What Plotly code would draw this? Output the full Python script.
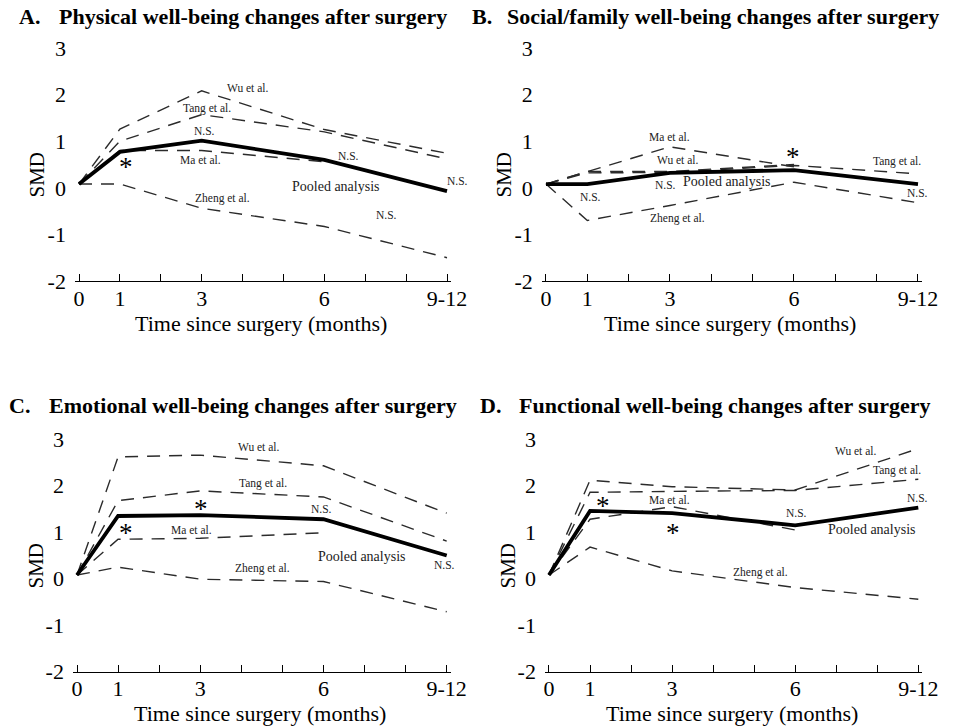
import plotly.graph_objects as go

# Time points (axis positions) and their tick labels
tick_positions = [0, 1, 2, 3, 4, 5, 6, 7, 8, 9]
tick_labels = ["0", "1", "", "3", "", "", "6", "", "", "9-12"]
months = [0, 1, 3, 6, 9]
y_ticks = [-2, -1, 0, 1, 2, 3]
y_tick_labels = ["-2", "-1", "0", "1", "2", "3"]

# A. Physical well-being (SMD)
phys_pooled = [0.08, 0.77, 1.01, 0.60, -0.07]
phys_wu = [0.08, 1.26, 2.08, 1.25, 0.74]
phys_tang = [0.08, 1.00, 1.57, 1.20, 0.62]
phys_ma = [0.08, 0.80, 0.80, 0.56, None]
phys_zheng = [0.08, 0.08, -0.44, -0.83, -1.50]

# B. Social/family well-being (SMD)
soc_pooled = [0.08, 0.08, 0.32, 0.38, 0.08]
soc_wu = [0.08, 0.35, 0.35, 0.50, None]
soc_tang = [0.08, 0.32, 0.33, 0.48, 0.30]
soc_ma = [0.08, None, 0.88, 0.45, None]
soc_zheng = [0.08, -0.70, -0.38, 0.12, -0.32]

# C. Emotional well-being (SMD)
emo_pooled = [0.08, 1.35, 1.37, 1.28, 0.50]
emo_wu = [0.08, 2.62, 2.66, 2.43, 1.41]
emo_tang = [0.08, 1.68, 1.89, 1.76, 0.81]
emo_ma = [0.08, 0.85, 0.87, 0.99, None]
emo_zheng = [0.08, 0.25, -0.01, -0.06, -0.71]

# D. Functional well-being (SMD)
func_pooled = [0.08, 1.46, 1.41, 1.15, 1.53]
func_wu = [0.08, 2.12, 1.98, 1.91, 2.80]
func_tang = [0.08, 1.86, 1.88, 1.90, 2.14]
func_ma = [0.08, 1.28, 1.55, 1.05, None]
func_zheng = [0.08, 0.68, 0.17, -0.19, -0.44]

# In-plot labels: (text, x, y)
notes_phys = [("Wu et al.", 4.13, 2.14), ("Tang et al.", 3.13, 1.71), ("N.S.", 3.06, 1.22),
              ("Ma et al.", 2.96, 0.60), ("Zheng et al.", 3.50, -0.24), ("N.S.", 6.60, 0.68),
              ("N.S.", 7.53, -0.58)]
stars_phys = [(1.15, 0.53)]
pooled_lbl_phys = (6.28, 0.02)
end_ns_phys = (9.0, 0.15, 10)

notes_soc = [("Ma et al.", 2.99, 1.10), ("Wu et al.", 3.18, 0.60), ("Tang et al.", 8.49, 0.57),
             ("N.S.", 1.08, -0.20), ("N.S.", 2.88, 0.07), ("Zheng et al.", 3.18, -0.65)]
stars_soc = [(5.97, 0.74)]
pooled_lbl_soc = (4.37, 0.13)
end_ns_soc = (9.0, -0.12, 0)

notes_emo = [("Wu et al.", 4.41, 2.83), ("Tang et al.", 4.52, 2.05), ("N.S.", 5.94, 1.49),
             ("Ma et al.", 2.79, 1.05), ("Zheng et al.", 4.52, 0.22)]
stars_emo = [(3.03, 1.58), (1.19, 1.08)]
pooled_lbl_emo = (6.93, 0.47)
end_ns_emo = (8.95, 0.29, 0)

notes_func = [("Wu et al.", 7.46, 2.75), ("Tang et al.", 8.48, 2.32), ("Ma et al.", 2.93, 1.69),
              ("N.S.", 6.02, 1.41), ("Zheng et al.", 5.16, 0.14)]
stars_func = [(1.31, 1.66), (3.01, 1.07)]
pooled_lbl_func = (7.87, 1.05)
end_ns_func = (8.97, 1.73, 0)

W, H = 955, 727
SERIF = "Liberation Serif, Times New Roman, serif"


def px(x):
    return x / W


def py(y):
    return 1 - y / H


# Subplot frames in pixels: (x of month 0, x of 9-12, y of SMD 3, y of SMD -2)
frames = [
    (79, 447, 48, 281),
    (546, 918, 48, 281),
    (77, 446.7, 439.3, 671.7),
    (549, 918.3, 439.3, 671.7),
]
XPAD = 0.1

panels = [
    ("A.", "Physical well-being changes after surgery",
     phys_pooled, phys_wu, phys_tang, phys_ma, phys_zheng,
     notes_phys, stars_phys, pooled_lbl_phys, end_ns_phys, (17, 57, 16)),
    ("B.", "Social/family well-being changes after surgery",
     soc_pooled, soc_wu, soc_tang, soc_ma, soc_zheng,
     notes_soc, stars_soc, pooled_lbl_soc, end_ns_soc, (470, 505, 16)),
    ("C.", "Emotional well-being changes after surgery",
     emo_pooled, emo_wu, emo_tang, emo_ma, emo_zheng,
     notes_emo, stars_emo, pooled_lbl_emo, end_ns_emo, (7, 47, 405)),
    ("D.", "Functional well-being changes after surgery",
     func_pooled, func_wu, func_tang, func_ma, func_zheng,
     notes_func, stars_func, pooled_lbl_func, end_ns_func, (478, 517, 405)),
]

fig = go.Figure()
annotations = []
DASH = "13px,9px"

for i, (letter, title, pooled, wu, tang, ma, zheng, notes, stars,
        pooled_lbl, end_ns, tpos) in enumerate(panels):
    n = "" if i == 0 else str(i + 1)
    xa, ya = "x" + n, "y" + n
    x0, x9, ytop, ybot = frames[i]
    unit = (x9 - x0) / 9
    left, right = x0 - XPAD * unit, x9 + XPAD * unit

    for series in (wu, tang, ma, zheng):
        fig.add_trace(go.Scatter(
            x=months, y=series, mode="lines", xaxis=xa, yaxis=ya,
            connectgaps=True, showlegend=False, hoverinfo="skip",
            line=dict(color="#2b2b2b", width=1.4, dash=DASH)))
    fig.add_trace(go.Scatter(
        x=months, y=pooled, mode="lines", xaxis=xa, yaxis=ya,
        showlegend=False, hoverinfo="skip",
        line=dict(color="black", width=3.8)))

    fig.layout["xaxis" + n] = dict(
        domain=[px(left), px(right)], range=[-XPAD, 9 + XPAD], anchor=ya,
        automargin=False,
        tickmode="array", tickvals=tick_positions, ticktext=tick_labels,
        ticks="inside", ticklen=7, tickwidth=1.2, tickcolor="black",
        showline=True, linecolor="black", linewidth=1.2,
        showgrid=False, zeroline=False, fixedrange=True,
        ticklabelstandoff=-3,
        tickfont=dict(family=SERIF, size=22, color="black"))
    fig.layout["yaxis" + n] = dict(
        domain=[py(ybot), py(ytop)], range=[-2, 3], anchor=xa,
        automargin=False,
        tickmode="array", tickvals=y_ticks, ticktext=y_tick_labels, ticks="",
        showline=False, showgrid=False, zeroline=False, fixedrange=True,
        ticklabelstandoff=8,
        tickfont=dict(family=SERIF, size=22, color="black"))

    small = dict(family=SERIF, size=11.5, color="#222")
    for text, x, y in notes:
        annotations.append(dict(x=x, y=y, xref=xa, yref=ya, text=text,
                                showarrow=False, font=small))
    ex, ey, eshift = end_ns
    annotations.append(dict(x=ex, y=ey, xref=xa, yref=ya, text="N.S.",
                            xshift=eshift, showarrow=False, font=small))
    for x, y in stars:
        annotations.append(dict(x=x, y=y, xref=xa, yref=ya, text="*", yshift=-4,
                                showarrow=False,
                                font=dict(family=SERIF, size=27, color="black")))
    annotations.append(dict(x=pooled_lbl[0], y=pooled_lbl[1], xref=xa, yref=ya,
                            text="Pooled analysis", showarrow=False,
                            font=dict(family=SERIF, size=14, color="#222")))

    # Panel heading
    lx, tx, ty = tpos
    bold = dict(family=SERIF, size=22, color="black")
    annotations.append(dict(x=px(lx), y=py(ty), xref="paper", yref="paper",
                            text="<b>" + letter + "</b>", xanchor="left",
                            yanchor="middle", showarrow=False, font=bold))
    annotations.append(dict(x=px(tx), y=py(ty), xref="paper", yref="paper",
                            text="<b>" + title + "</b>", xanchor="left",
                            yanchor="middle", showarrow=False, font=bold))

    # Axis titles
    annotations.append(dict(x=px(x0 - 42), y=py((ytop + ybot) / 2 + 10),
                            xref="paper", yref="paper", text="SMD", textangle=-90,
                            xanchor="center", yanchor="middle", showarrow=False,
                            font=dict(family=SERIF, size=21, color="black")))
    annotations.append(dict(x=px((x0 + x9) / 2 - 2), y=py(ybot + 42),
                            xref="paper", yref="paper",
                            text="Time since surgery (months)",
                            xanchor="center", yanchor="middle", showarrow=False,
                            font=dict(family=SERIF, size=22, color="black")))

fig.update_layout(
    width=W, height=H, margin=dict(l=0, r=0, t=0, b=0, pad=0),
    paper_bgcolor="white", plot_bgcolor="white",
    annotations=annotations, showlegend=False)

fig.write_html("out.html")
